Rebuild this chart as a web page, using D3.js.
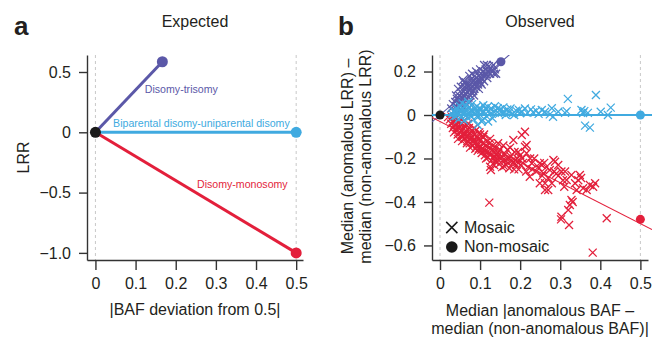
<!DOCTYPE html>
<html><head><meta charset="utf-8">
<script src="https://cdn.jsdelivr.net/npm/d3@7"></script>
<style>
html,body{margin:0;padding:0;background:#fff;}
svg{display:block;font-family:"Liberation Sans",Arial,sans-serif;}
</style></head>
<body><svg id="chart" width="662" height="339"></svg>
<script>
// ---------- DATA ----------
const panelTitles = ["Expected", "Observed"];
const panelLetters = ["a", "b"];
const seriesNames = ["Disomy-trisomy", "Biparental disomy-uniparental disomy", "Disomy-monosomy"];
const seriesColors = ["#5b58a8", "#40aae0", "#e31f3b"];

// Panel a: expected endpoints (BAF deviation, LRR)
const expectedOrigin = [0, 0];
const expectedEnd = [[0.1667, 0.585], [0.5, 0], [0.5, -1.0]];
const expectedLabelPos = [[0.123, 0.33], [0.044, 0.04], [0.253, -0.466]];
const aXTicks = [0, 0.1, 0.2, 0.3, 0.4, 0.5];
const aYTicks = [0.5, 0, -0.5, -1.0];
const aYTickLabels = ["0.5", "0", "\u22120.5", "\u22121.0"];

// Panel b: observed mosaic points
const purplePts = [[0.028,0.03],[0.032,0.05],[0.035,0.02],[0.038,0.06],[0.04,0.04],[0.042,0.075],[0.045,0.03],[0.046,0.055],[0.048,0.09],[0.05,0.065],[0.052,0.045],[0.054,0.08],[0.055,0.1],[0.057,0.06],[0.058,0.11],[0.06,0.085],[0.062,0.07],[0.063,0.12],[0.065,0.095],[0.066,0.05],[0.068,0.105],[0.07,0.13],[0.071,0.08],[0.073,0.115],[0.074,0.14],[0.076,0.09],[0.078,0.125],[0.079,0.105],[0.08,0.15],[0.082,0.135],[0.083,0.11],[0.085,0.16],[0.086,0.12],[0.088,0.145],[0.09,0.13],[0.091,0.17],[0.093,0.155],[0.095,0.14],[0.096,0.18],[0.098,0.16],[0.1,0.175],[0.101,0.15],[0.103,0.19],[0.105,0.165],[0.107,0.2],[0.108,0.18],[0.11,0.155],[0.112,0.195],[0.114,0.21],[0.116,0.185],[0.118,0.17],[0.12,0.2],[0.122,0.225],[0.125,0.19],[0.127,0.215],[0.13,0.2],[0.133,0.23],[0.137,0.21],[0.14,0.19],[0.117,0.23],[0.06,0.04],[0.05,0.025],[0.075,0.06],[0.085,0.09],[0.097,0.12],[0.068,0.14],[0.062,0.13],[0.09,0.2],[0.045,0.12],[0.057,0.16],[0.073,0.18],[0.065,0.15],[0.08,0.19],[0.1,0.21],[0.11,0.23],[0.135,0.19],[0.052,0.13],[0.06,0.15],[0.077,0.165],[0.087,0.18],[0.104,0.14],[0.04,0.09]];
const bluePts = [[0.03,0.005],[0.033,-0.01],[0.035,0.02],[0.037,0.01],[0.04,-0.005],[0.042,0.03],[0.044,0.015],[0.046,-0.02],[0.048,0.005],[0.05,0.04],[0.052,0.02],[0.054,-0.01],[0.056,0.01],[0.058,0.03],[0.06,-0.025],[0.062,0.015],[0.064,0.045],[0.066,0.0],[0.068,0.025],[0.07,-0.015],[0.072,0.01],[0.074,0.035],[0.076,0.02],[0.078,-0.005],[0.08,0.05],[0.082,0.015],[0.084,-0.02],[0.086,0.03],[0.088,0.005],[0.09,0.02],[0.092,0.04],[0.094,-0.01],[0.096,0.015],[0.098,0.03],[0.1,0.0],[0.102,0.025],[0.104,-0.03],[0.106,0.01],[0.108,0.045],[0.11,0.015],[0.113,0.03],[0.116,-0.005],[0.119,0.038],[0.122,0.02],[0.125,0.005],[0.128,0.03],[0.131,-0.015],[0.134,0.015],[0.137,0.04],[0.14,0.02],[0.144,0.031],[0.147,0.005],[0.15,0.025],[0.154,0.01],[0.158,0.035],[0.16,0.015],[0.164,0.0],[0.168,0.025],[0.172,0.012],[0.176,0.03],[0.18,0.005],[0.185,0.0],[0.19,0.02],[0.197,0.023],[0.2,0.008],[0.205,0.015],[0.212,0.03],[0.218,0.01],[0.227,0.026],[0.232,0.012],[0.24,0.02],[0.246,0.005],[0.254,0.023],[0.262,0.015],[0.274,0.003],[0.279,0.031],[0.282,-0.008],[0.295,0.015],[0.312,0.01],[0.316,0.018],[0.319,0.074],[0.353,0.023],[0.357,0.009],[0.362,-0.049],[0.369,0.01],[0.374,-0.058],[0.36,0.018],[0.389,0.092],[0.401,0.015],[0.419,0.0],[0.426,0.034],[0.106,-0.023],[0.094,-0.046],[0.12,-0.03],[0.07,0.06],[0.055,0.055]];
const redPts = [[0.025,-0.02],[0.028,-0.04],[0.03,-0.01],[0.032,-0.06],[0.034,-0.03],[0.036,-0.05],[0.038,-0.02],[0.04,-0.07],[0.042,-0.04],[0.044,-0.09],[0.046,-0.03],[0.048,-0.06],[0.05,-0.08],[0.052,-0.045],[0.054,-0.1],[0.056,-0.065],[0.058,-0.03],[0.06,-0.085],[0.062,-0.11],[0.064,-0.055],[0.066,-0.075],[0.068,-0.12],[0.07,-0.095],[0.072,-0.06],[0.074,-0.13],[0.076,-0.085],[0.078,-0.105],[0.08,-0.07],[0.082,-0.14],[0.084,-0.115],[0.086,-0.09],[0.088,-0.155],[0.09,-0.125],[0.092,-0.1],[0.094,-0.165],[0.096,-0.135],[0.098,-0.08],[0.1,-0.145],[0.102,-0.115],[0.104,-0.175],[0.106,-0.13],[0.108,-0.1],[0.11,-0.16],[0.112,-0.185],[0.114,-0.14],[0.116,-0.12],[0.118,-0.17],[0.12,-0.195],[0.122,-0.15],[0.124,-0.13],[0.126,-0.18],[0.128,-0.21],[0.13,-0.16],[0.132,-0.14],[0.134,-0.19],[0.136,-0.17],[0.138,-0.215],[0.14,-0.15],[0.142,-0.2],[0.145,-0.175],[0.148,-0.225],[0.15,-0.16],[0.153,-0.19],[0.156,-0.21],[0.158,-0.14],[0.16,-0.235],[0.163,-0.18],[0.166,-0.2],[0.168,-0.16],[0.17,-0.22],[0.173,-0.245],[0.176,-0.19],[0.18,-0.21],[0.183,-0.115],[0.186,-0.17],[0.19,-0.23],[0.193,-0.2],[0.196,-0.25],[0.2,-0.185],[0.204,-0.092],[0.207,-0.22],[0.212,-0.077],[0.212,-0.146],[0.216,-0.138],[0.216,-0.176],[0.187,-0.207],[0.22,-0.24],[0.224,-0.284],[0.229,-0.222],[0.235,-0.2],[0.24,-0.26],[0.249,-0.222],[0.249,-0.314],[0.254,-0.23],[0.258,-0.268],[0.262,-0.345],[0.262,-0.314],[0.27,-0.345],[0.274,-0.253],[0.279,-0.314],[0.283,-0.207],[0.287,-0.215],[0.29,-0.27],[0.295,-0.23],[0.303,-0.26],[0.303,-0.468],[0.307,-0.3],[0.312,-0.26],[0.316,-0.299],[0.32,-0.437],[0.322,-0.506],[0.324,-0.414],[0.328,-0.276],[0.328,-0.391],[0.331,-0.4],[0.337,-0.314],[0.341,-0.345],[0.345,-0.3],[0.349,-0.276],[0.352,-0.29],[0.357,-0.337],[0.366,-0.345],[0.374,-0.322],[0.382,-0.33],[0.387,-0.314],[0.381,-0.633],[0.416,-0.475],[0.123,-0.403],[0.302,-0.48],[0.127,-0.253],[0.125,-0.238],[0.035,-0.08],[0.045,-0.11],[0.055,-0.12],[0.065,-0.1],[0.075,-0.15],[0.085,-0.06],[0.095,-0.11],[0.105,-0.155],[0.115,-0.2],[0.125,-0.11],[0.135,-0.23],[0.145,-0.13],[0.155,-0.24],[0.165,-0.23],[0.175,-0.15],[0.185,-0.25],[0.195,-0.17],[0.205,-0.2],[0.215,-0.26],[0.225,-0.2],[0.23,-0.25],[0.245,-0.24],[0.255,-0.28],[0.265,-0.24],[0.27,-0.29],[0.285,-0.26],[0.295,-0.28],[0.31,-0.33],[0.26,-0.22],[0.05,-0.03],[0.06,-0.05],[0.07,-0.04],[0.08,-0.1],[0.09,-0.07],[0.1,-0.09],[0.11,-0.09],[0.04,-0.015],[0.02,-0.01],[0.043,-0.055],[0.053,-0.07],[0.063,-0.09],[0.073,-0.11],[0.083,-0.125],[0.093,-0.14],[0.103,-0.16],[0.113,-0.165],[0.123,-0.175],[0.133,-0.2],[0.143,-0.19],[0.152,-0.2],[0.162,-0.21],[0.172,-0.2],[0.182,-0.22],[0.192,-0.215],[0.202,-0.23],[0.058,-0.095],[0.067,-0.13],[0.087,-0.13],[0.097,-0.155]];
// Non-mosaic observed points
const nonMosaicPts = [[0, 0, "#1a1a1a"], [0.152, 0.245, "#5b58a8"], [0.5, 0, "#40aae0"], [0.5, -0.48, "#e31f3b"]];
// Fit lines: [slope, intercept]
const fitPurple = [1.6, 0.0];
const fitBlue = [0, 0];
const fitRed = [-0.94, -0.03];
const bXTicks = [0, 0.1, 0.2, 0.3, 0.4, 0.5];
const bYTicks = [0.2, 0, -0.2, -0.4, -0.6];
const bYTickLabels = ["0.2", "0", "\u22120.2", "\u22120.4", "\u22120.6"];
const legendLabels = ["Mosaic", "Non-mosaic"];

// ---------- DRAW ----------
const svg = d3.select("#chart");
const axisColor = "#333";
const textColor = "#231f20";
const fontSize = 16;

function styleAxis(g) {
  g.selectAll("path.domain").attr("stroke", axisColor).attr("stroke-width", 1.4);
  g.selectAll(".tick line").attr("stroke", axisColor).attr("stroke-width", 1.4);
  g.selectAll(".tick text").attr("fill", textColor).attr("font-size", fontSize)
    .attr("font-family", "Liberation Sans, Arial, sans-serif");
}
const fmtX = d => d === 0 ? "0" : d3.format(".1f")(d);

// ===== Panel a =====
const ax = d3.scaleLinear().domain([-0.021, 0.517]).range([87, 303]);
const ay = d3.scaleLinear().domain([-1.059, 0.641]).range([260, 55]);
const ga = svg.append("g");

[0, 0.5].forEach(v => ga.append("line").attr("x1", ax(v)).attr("x2", ax(v))
  .attr("y1", ay.range()[1]).attr("y2", ay.range()[0])
  .attr("stroke", "#c8c8c8").attr("stroke-dasharray", "3,3").attr("stroke-width", 1));

const gax = ga.append("g").attr("transform", "translate(0,260)")
  .call(d3.axisBottom(ax).tickValues(aXTicks).tickFormat(fmtX).tickSize(10).tickSizeOuter(0).tickPadding(8));
styleAxis(gax);
const gay = ga.append("g").attr("transform", "translate(87,0)")
  .call(d3.axisLeft(ay).tickValues(aYTicks).tickFormat((d, i) => aYTickLabels[i]).tickSize(8).tickSizeOuter(0).tickPadding(8));
styleAxis(gay);

expectedEnd.forEach((e, i) => {
  ga.append("line").attr("x1", ax(expectedOrigin[0])).attr("y1", ay(expectedOrigin[1]))
    .attr("x2", ax(e[0])).attr("y2", ay(e[1]))
    .attr("stroke", seriesColors[i]).attr("stroke-width", 3);
});
expectedEnd.forEach((e, i) => {
  ga.append("circle").attr("cx", ax(e[0])).attr("cy", ay(e[1])).attr("r", 5.5).attr("fill", seriesColors[i]);
});
ga.append("circle").attr("cx", ax(expectedOrigin[0])).attr("cy", ay(expectedOrigin[1])).attr("r", 5.5).attr("fill", "#1a1a1a");
expectedLabelPos.forEach((p, i) => {
  ga.append("text").attr("x", ax(p[0])).attr("y", ay(p[1])).attr("fill", seriesColors[i])
    .attr("font-size", 10.6).text(seriesNames[i]);
});

ga.append("text").attr("x", 195).attr("y", 27).attr("text-anchor", "middle")
  .attr("font-size", fontSize).attr("fill", textColor).text(panelTitles[0]);
ga.append("text").attr("x", 14).attr("y", 35).attr("font-size", 26).attr("font-weight", "bold")
  .attr("fill", textColor).text(panelLetters[0]);
ga.append("text").attr("x", 195).attr("y", 315).attr("text-anchor", "middle")
  .attr("font-size", fontSize).attr("fill", textColor).text("|BAF deviation from 0.5|");
ga.append("text").attr("transform", "translate(28.5,157.5) rotate(-90)").attr("text-anchor", "middle")
  .attr("font-size", fontSize).attr("fill", textColor).text("LRR");

// ===== Panel b =====
const bx = d3.scaleLinear().domain([-0.02, 0.519]).range([432, 648]);
const by = d3.scaleLinear().domain([-0.667, 0.276]).range([260, 55]);
const gb = svg.append("g");
svg.append("defs").append("clipPath").attr("id", "clipb").append("rect")
  .attr("x", 432).attr("y", 55).attr("width", 648 - 432 + 4).attr("height", 205);

[0, 0.5].forEach(v => gb.append("line").attr("x1", bx(v)).attr("x2", bx(v))
  .attr("y1", by.range()[1]).attr("y2", by.range()[0])
  .attr("stroke", "#c8c8c8").attr("stroke-dasharray", "3,3").attr("stroke-width", 1));

const gbx = gb.append("g").attr("transform", "translate(0,260)")
  .call(d3.axisBottom(bx).tickValues(bXTicks).tickFormat(fmtX).tickSize(10).tickSizeOuter(0).tickPadding(8));
styleAxis(gbx);
const gby = gb.append("g").attr("transform", "translate(432,0)")
  .call(d3.axisLeft(by).tickValues(bYTicks).tickFormat((d, i) => bYTickLabels[i]).tickSize(8).tickSizeOuter(0).tickPadding(8));
styleAxis(gby);

const plot = gb.append("g").attr("clip-path", "url(#clipb)");
const cross = "M-4,-4L4,4M-4,4L4,-4";
function drawPts(pts, color) {
  plot.append("g").selectAll("path").data(pts).join("path")
    .attr("transform", d => `translate(${bx(d[0])},${by(d[1])})`)
    .attr("d", cross).attr("stroke", color).attr("stroke-width", 1.25).attr("fill", "none");
}
drawPts(redPts, seriesColors[2]);
drawPts(purplePts, seriesColors[0]);
drawPts(bluePts, seriesColors[1]);

function fitLine(f, color, w) {
  const x0 = bx.domain()[0], x1 = bx.domain()[1] + 0.01;
  plot.append("line").attr("x1", bx(x0)).attr("y1", by(f[0] * x0 + f[1]))
    .attr("x2", bx(x1)).attr("y2", by(f[0] * x1 + f[1]))
    .attr("stroke", color).attr("stroke-width", w);
}
fitLine(fitBlue, seriesColors[1], 2);
fitLine(fitPurple, seriesColors[0], 1.1);
fitLine(fitRed, seriesColors[2], 1.1);

gb.append("g").selectAll("circle").data(nonMosaicPts).join("circle")
  .attr("cx", d => bx(d[0])).attr("cy", d => by(d[1])).attr("r", 4.5).attr("fill", d => d[2]);

// legend
gb.append("path").attr("transform", "translate(451.8,227.5)").attr("d", "M-5.6,-5.6L5.6,5.6M-5.6,5.6L5.6,-5.6")
  .attr("stroke", "#1a1a1a").attr("stroke-width", 1.5).attr("fill", "none");
gb.append("circle").attr("cx", 451.8).attr("cy", 247).attr("r", 5.8).attr("fill", "#1a1a1a");
gb.append("text").attr("x", 464).attr("y", 233).attr("font-size", fontSize).attr("fill", textColor).text(legendLabels[0]);
gb.append("text").attr("x", 464).attr("y", 252).attr("font-size", fontSize).attr("fill", textColor).text(legendLabels[1]);

gb.append("text").attr("x", 540).attr("y", 27).attr("text-anchor", "middle")
  .attr("font-size", fontSize).attr("fill", textColor).text(panelTitles[1]);
gb.append("text").attr("x", 338).attr("y", 35).attr("font-size", 26).attr("font-weight", "bold")
  .attr("fill", textColor).text(panelLetters[1]);
gb.append("text").attr("x", 540).attr("y", 316).attr("text-anchor", "middle")
  .attr("font-size", fontSize).attr("fill", textColor).text("Median |anomalous BAF \u2013");
gb.append("text").attr("x", 540).attr("y", 334).attr("text-anchor", "middle")
  .attr("font-size", fontSize).attr("fill", textColor).text("median (non-anomalous BAF)|");
gb.append("text").attr("transform", "translate(353,156.5) rotate(-90)").attr("text-anchor", "middle")
  .attr("font-size", fontSize).attr("fill", textColor).text("Median (anomalous LRR) \u2013");
gb.append("text").attr("transform", "translate(371,156.5) rotate(-90)").attr("text-anchor", "middle")
  .attr("font-size", fontSize).attr("fill", textColor).text("median (non-anomalous LRR)");
</script></body></html>
